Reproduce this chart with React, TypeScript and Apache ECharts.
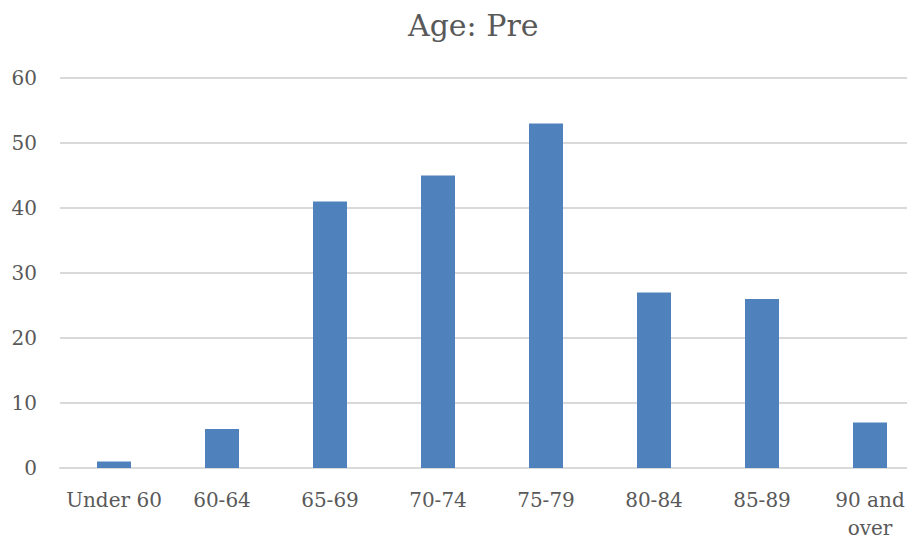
import React, { useEffect, useRef } from "react";
import * as echarts from "echarts";

const categories = ["Under 60", "60-64", "65-69", "70-74", "75-79", "80-84", "85-89", "90 and\nover"];
const counts = [1, 6, 41, 45, 53, 27, 26, 7];
const yTicks = { min: 0, max: 60, interval: 10 };

const FONT = "'DejaVu Serif', serif";
const TEXT = "#595959";

export default function App() {
  const ref = useRef<HTMLDivElement>(null);

  useEffect(() => {
    if (!ref.current) return;
    const chart = echarts.init(ref.current, undefined, { renderer: "svg" });
    chart.setOption({
      animation: false,
      backgroundColor: "#ffffff",
      title: {
        text: "Age: Pre",
        left: 403,
        top: 5,
        textStyle: { fontFamily: FONT, fontSize: 30, fontWeight: "normal", color: TEXT },
      },
      // plot area runs a little past the right edge of the canvas
      grid: {
        left: 60,
        width: 864,
        top: 78,
        bottom: 76,
        containLabel: false,
        outerBoundsMode: "none",
      },
      xAxis: {
        type: "category",
        data: categories,
        axisLine: { show: true, lineStyle: { color: "#D9D9D9", width: 2 } },
        axisTick: { show: false },
        axisLabel: {
          fontFamily: FONT,
          fontSize: 20,
          color: TEXT,
          margin: 18,
          lineHeight: 28,
          interval: 0,
        },
      },
      yAxis: {
        type: "value",
        min: yTicks.min,
        max: yTicks.max,
        interval: yTicks.interval,
        axisLine: { show: false },
        axisTick: { show: false },
        splitLine: { lineStyle: { color: "#D9D9D9", width: 2 } },
        axisLabel: { fontFamily: FONT, fontSize: 20, color: TEXT, margin: 23 },
      },
      series: [
        {
          type: "bar",
          data: counts,
          barWidth: 34,
          itemStyle: { color: "#4F81BD" },
        },
      ],
    });
    return () => chart.dispose();
  }, []);

  return <div ref={ref} style={{ width: 915, height: 544, margin: -8 }} />;
}
